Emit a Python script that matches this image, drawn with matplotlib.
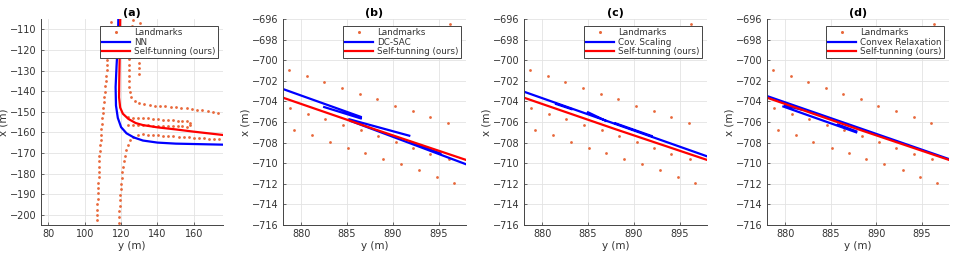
import numpy as np
import matplotlib
matplotlib.use('Agg')
import matplotlib.pyplot as plt

# ---------------- panel (a) ----------------
lm_a1_x = [114.2, 114.0, 113.7, 113.5, 113.2, 113.0, 112.7, 112.5, 112.2, 112.0, 111.7, 111.5, 111.2,
           111.0, 110.7, 110.5, 110.2, 110.0, 109.7, 109.5, 109.2, 109.0, 108.7, 108.5, 108.3, 108.1,
           108.0, 107.9, 107.8, 107.7, 107.5, 107.4, 107.3, 107.2, 107.0, 106.9, 106.8, 106.7]
lm_a1_y = [-106.5, -109.1, -111.7, -114.3, -116.9, -119.5, -122.1, -124.7, -127.3, -129.9, -132.5,
           -135.1, -137.7, -140.3, -142.9, -145.5, -148.1, -150.7, -153.3, -155.9, -158.5, -161.1,
           -163.7, -166.3, -168.9, -171.5, -174.1, -176.7, -179.3, -181.9, -184.5, -187.1, -189.7,
           -192.3, -194.9, -197.5, -200.1, -202.7]

lm_a2_x = [126.4, 126.0, 125.6, 125.2, 124.9, 124.6, 124.4, 124.3, 124.3, 124.3, 124.3, 124.4, 124.5,
           124.8, 125.6, 127.5, 130.0, 132.8, 135.7, 138.6, 141.5, 144.4, 147.3, 150.2, 153.1, 156.0,
           158.9, 161.8, 164.7, 167.6, 170.5, 173.4]
lm_a2_y = [-105.5, -108.2, -110.9, -113.6, -116.3, -119.0, -121.7, -124.4, -127.1, -129.8, -132.5,
           -135.2, -137.9, -140.6, -143.0, -144.8, -145.9, -146.5, -146.8, -147.0, -147.2, -147.4,
           -147.6, -147.8, -148.1, -148.4, -148.7, -149.0, -149.4, -149.8, -150.2, -150.5]

lm_a3_x = [130.3, 130.2, 130.2, 130.1, 130.0, 130.0, 129.9, 129.8, 129.8, 129.7]
lm_a3_y = [-107.0, -109.8, -112.5, -115.3, -118.0, -120.8, -123.5, -126.3, -129.0, -131.8]

lm_a4_x = [124.0, 126.7, 129.4, 132.1, 134.8, 137.5, 140.2, 142.9, 145.6, 148.3, 151.0, 153.7, 156.4,
           157.8, 157.6,
           156.4, 153.7, 151.0, 148.3, 145.6, 142.9, 140.2, 137.5, 134.8, 132.1, 129.4, 126.7, 124.0]
lm_a4_y = [-152.7, -152.9, -153.0, -153.2, -153.3, -153.5, -153.7, -153.8, -154.0, -154.1, -154.3,
           -154.4, -154.6, -155.5, -156.6,
           -157.2, -157.1, -157.1, -157.0, -156.9, -156.8, -156.8, -156.7, -156.6, -156.5, -156.5,
           -156.4, -156.3]

lm_a5_x = [118.6, 118.8, 119.0, 119.2, 119.4, 119.6, 119.8, 120.0, 120.3, 120.7, 121.2, 121.7, 122.2,
           122.8, 123.6, 124.8, 126.8, 129.3, 132.0, 134.8, 137.6, 140.4, 143.2, 146.0, 148.8, 151.6,
           154.4, 157.2, 160.0, 162.8, 165.6, 168.4, 171.2, 174.0]
lm_a5_y = [-203.8, -201.1, -198.4, -195.7, -193.0, -190.3, -187.6, -184.9, -182.2, -179.5, -176.8,
           -174.1, -171.4, -168.7, -166.1, -163.8, -162.2, -161.3, -161.0, -161.1, -161.3, -161.4,
           -161.6, -161.8, -161.9, -162.1, -162.3, -162.4, -162.6, -162.8, -162.9, -163.1, -163.3,
           -163.4]

nn_x = [118.5, 118.3, 117.5, 117.0, 117.2, 118.2, 120.0, 123.0, 127.0, 132.0, 140.0, 150.0, 176.0]
nn_y = [-105.0, -115.0, -128.0, -138.0, -147.0, -153.0, -157.5, -160.5, -162.5, -164.0, -165.0,
        -165.5, -166.0]

st_a_x = [119.5, 119.3, 119.0, 118.9, 119.5, 121.0, 124.0, 128.0, 132.0, 140.0, 150.0, 160.0, 176.0]
st_a_y = [-105.0, -120.0, -135.0, -143.0, -148.0, -151.0, -153.5, -155.5, -156.5, -157.6, -158.6,
          -159.7, -161.3]

# ---------------- panels (b)-(d) ----------------
lm_x = [878.7, 880.6, 882.5, 884.5, 886.4, 888.3, 890.2, 892.2, 894.1, 896.0,
        878.8, 880.7, 882.6, 884.6, 886.5, 888.4, 890.3, 892.2, 894.1, 896.1,
        879.2, 881.2, 883.1, 885.1, 887.0, 888.9, 890.9, 892.9, 894.8, 896.7,
        896.3]
lm_y = [-701.0, -701.5, -702.1, -702.7, -703.3, -703.8, -704.4, -704.9, -705.5, -706.1,
        -704.6, -705.2, -705.7, -706.3, -706.8, -707.4, -707.9, -708.5, -709.1, -709.6,
        -706.8, -707.3, -707.9, -708.5, -709.0, -709.6, -710.1, -710.7, -711.3, -711.9,
        -696.5]

st_bcd_x = [878.0, 888.0, 898.0]
st_bcd_y = [-703.64, -706.7, -709.68]

# NaN separates the jumps of the baseline trajectories
dcsac_x = [878.0, 886.5, np.nan, 882.5, 886.5, np.nan, 885.25, 891.8, np.nan,
           885.4, 898.0, np.nan, 891.9, 895.2]
dcsac_y = [-702.8, -705.5, np.nan, -704.55, -705.65, np.nan, -705.74, -707.33, np.nan,
           -705.9, -710.1, np.nan, -707.95, -709.05]

cov_x = [878.0, 898.0, np.nan, 881.5, 883.2, np.nan, 885.0, 886.9, np.nan, 888.0, 891.95]
cov_y = [-703.06, -709.33, np.nan, -704.25, -704.75, np.nan, -705.06, -705.87, np.nan,
         -706.13, -707.36]

cvx_x = [878.0, 898.0, np.nan, 879.8, 887.8, np.nan, 880.0, 881.8, np.nan, 885.8, 887.8]
cvx_y = [-703.48, -709.6, np.nan, -704.5, -707.0, np.nan, -704.4, -704.8, np.nan, -706.25, -706.9]

titles = ['(a)', '(b)', '(c)', '(d)']
base_names = ['NN', 'DC-SAC', 'Cov. Scaling', 'Convex Relaxation']

LM_COLOR = '#E8683A'
TXT = '#333333'

fig = plt.figure(figsize=(9.58, 2.54), dpi=100)
lefts = [41, 283, 524, 767]
widths = [182, 183, 183, 182]
axes = [fig.add_axes([l / 958, 29 / 254, w / 958, 206 / 254]) for l, w in zip(lefts, widths)]

lm_kw = dict(ls='none', marker='o', ms=2.0, mew=0, color=LM_COLOR)

# (a)
ax = axes[0]
ax.plot(lm_a1_x, lm_a1_y, label='Landmarks', **lm_kw)
for xs, ys in [(lm_a2_x, lm_a2_y), (lm_a3_x, lm_a3_y), (lm_a4_x, lm_a4_y), (lm_a5_x, lm_a5_y)]:
    ax.plot(xs, ys, **lm_kw)
ax.plot(nn_x, nn_y, color='#0000FF', lw=1.6, label=base_names[0])
ax.plot(st_a_x, st_a_y, color='#FF0000', lw=1.6, label='Self-tunning (ours)')
ax.set_xlim(76, 176)
ax.set_ylim(-205, -105)
ax.set_xticks([80, 100, 120, 140, 160])
ax.set_yticks(np.arange(-200, -105, 10))

# (b)-(d)
for ax, bx, by, name in zip(axes[1:], [dcsac_x, cov_x, cvx_x], [dcsac_y, cov_y, cvx_y], base_names[1:]):
    ax.plot(lm_x, lm_y, label='Landmarks', **lm_kw)
    ax.plot(bx, by, color='#0000FF', lw=1.6, label=name)
    ax.plot(st_bcd_x, st_bcd_y, color='#FF0000', lw=1.6, label='Self-tunning (ours)')
    ax.set_xlim(878, 898)
    ax.set_ylim(-716, -696)
    ax.set_xticks([880, 885, 890, 895])
    ax.set_yticks(np.arange(-716, -695, 2))

for ax, t in zip(axes, titles):
    ax.set_title(t, fontsize=8, fontweight='bold', pad=2.5, color='black')
    ax.set_xlabel('y (m)', fontsize=7.5, color=TXT, labelpad=1)
    ax.set_ylabel('x (m)', fontsize=7.5, color=TXT, labelpad=1)
    ax.grid(True, color='#e3e3e3', lw=0.6)
    ax.set_axisbelow(True)
    ax.tick_params(labelsize=7, colors=TXT, direction='in', length=2, width=0.5, pad=3)
    for s in ['top', 'right']:
        ax.spines[s].set_visible(False)
    for s in ['left', 'bottom']:
        ax.spines[s].set_color('#444444')
        ax.spines[s].set_linewidth(0.7)
    leg = ax.legend(loc='upper right', bbox_to_anchor=(0.97, 0.965), fontsize=6.3, frameon=True,
                    fancybox=False, edgecolor='#444444', framealpha=1, borderpad=0.25,
                    labelspacing=0.05, handlelength=3.2, handletextpad=0.4, borderaxespad=0,
                    markerscale=1.1)
    leg.get_frame().set_linewidth(0.7)
    for txt in leg.get_texts():
        txt.set_color(TXT)

fig.savefig('out.png', dpi=100)
